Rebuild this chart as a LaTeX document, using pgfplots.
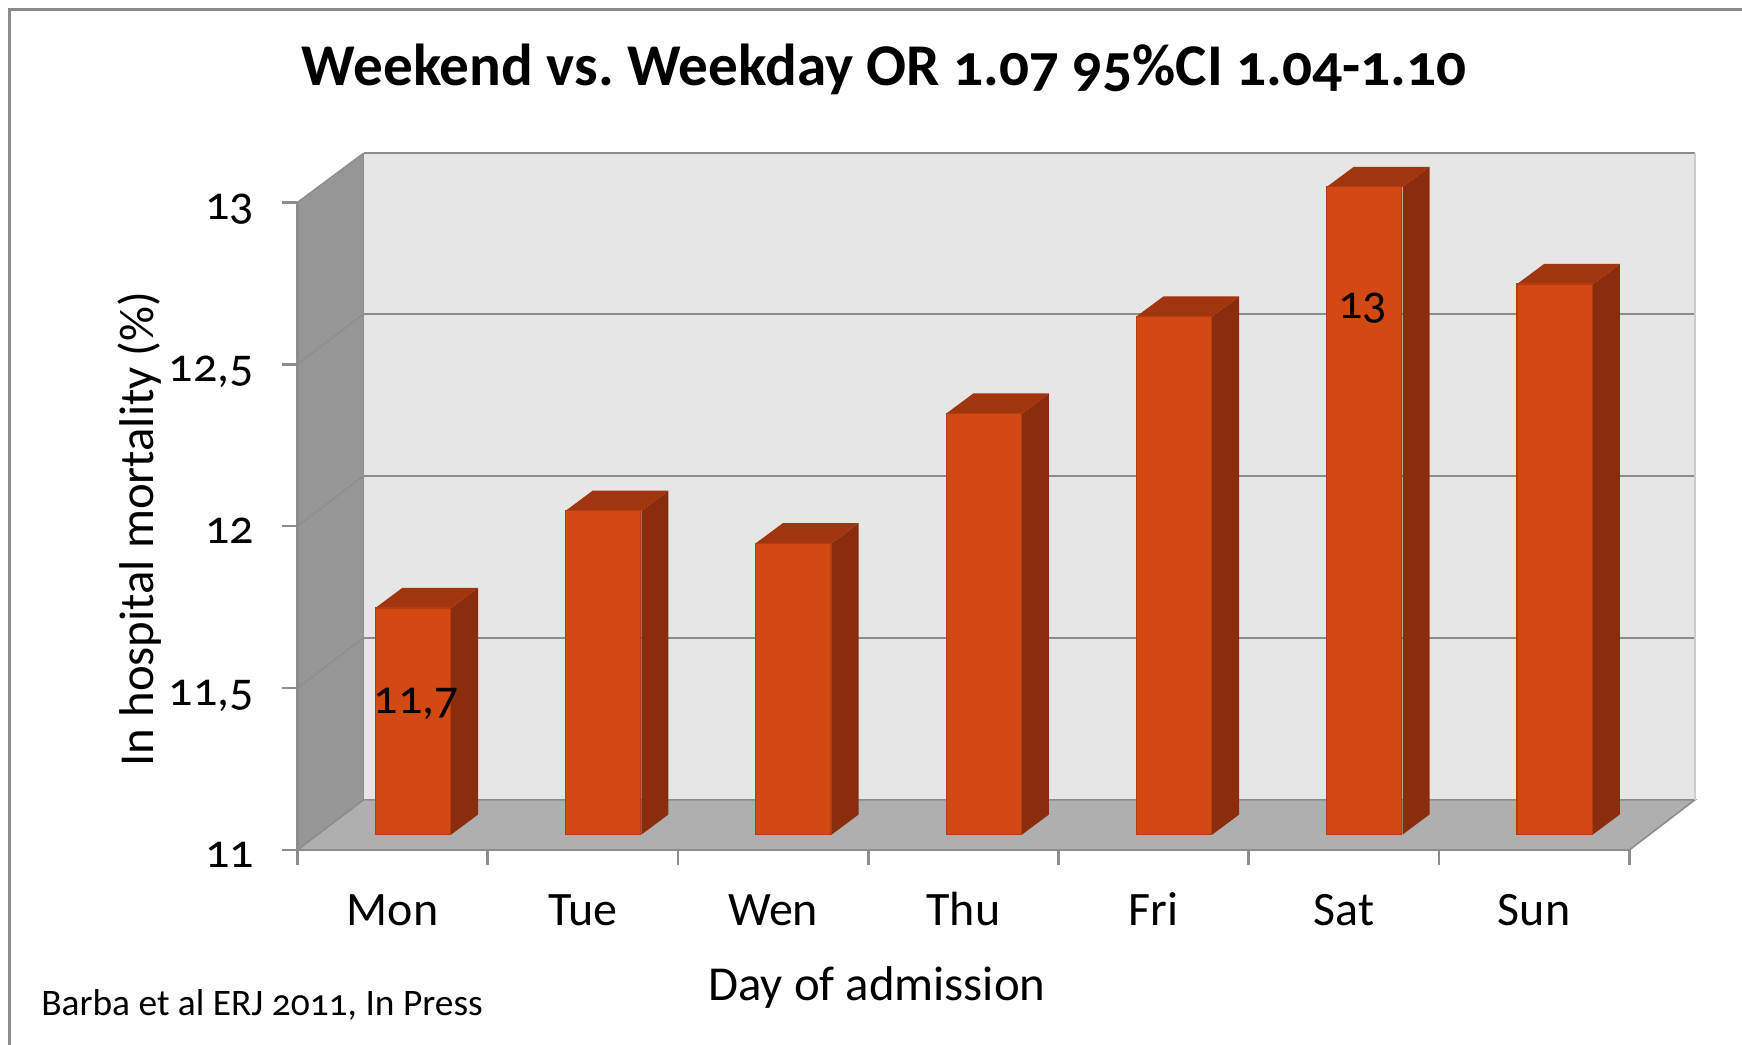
\documentclass[border=0pt]{standalone}
\usepackage{pgfplots}
\pgfplotsset{compat=1.18}
\usepackage{pgfplotstable}
\usepackage{fontspec}
\setmainfont[Numbers=OldStyle]{Carlito}
\definecolor{frontc}{HTML}{D34914}
\definecolor{edgec}{HTML}{B53C10}
\definecolor{sidec}{HTML}{8A2D0C}
\definecolor{topc}{HTML}{A1350E}
\definecolor{wallc}{HTML}{969696}
\definecolor{backc}{HTML}{E6E6E6}
\definecolor{floorc}{HTML}{AFAFAF}
\definecolor{linec}{HTML}{8C8C8C}
\pgfplotstableread{
x v
0.5 11.7
1.5 12.0
2.5 11.9
3.5 12.3
4.5 12.6
5.5 13.0
6.5 12.7
}\daydata
\newcommand{\threeD}[2]{%
  \pgfmathsetmacro{\xl}{#1+0.410}%
  \pgfmathsetmacro{\xr}{#1+0.808}%
  \pgfmathsetmacro{\xlb}{#1+0.410+0.142}%
  \pgfmathsetmacro{\xrb}{#1+0.808+0.142}%
  \pgfmathsetmacro{\yt}{#2+0.0476}%
  \pgfmathsetmacro{\ytb}{#2+0.0476+0.062}%
  \addplot[fill=sidec,draw=none] coordinates {(\xr,11.0476)(\xrb,11.1096)(\xrb,\ytb)(\xr,\yt)} --cycle;
  \addplot[fill=topc,draw=none] coordinates {(\xl,\yt)(\xr,\yt)(\xrb,\ytb)(\xlb,\ytb)} --cycle;
}
\begin{document}
\begin{tikzpicture}
\path[use as bounding box] (-148.7pt,-97.5pt) rectangle (722.3pt,425pt);
\draw[linec,line width=1.5pt] (722.3pt,420.3pt) -- (-143.9pt,420.3pt) -- (-143.9pt,-97.5pt);
\begin{axis}[
  scale only axis,
  width=665.95pt, height=323.85pt,
  xmin=0, xmax=7, ymin=11, ymax=13,
  clip=false,
  axis on top,
  axis lines=left,
  axis line style={-,draw=linec,line width=1.3pt},
  tick style={draw=linec,line width=1.3pt},
  tick align=outside,
  major tick length=7.5pt,
  minor tick num=0,
  xtick={0,1,2,3,4,5,6,7},
  xticklabels={},
  extra x ticks={0.5,1.5,2.5,3.5,4.5,5.5,6.5},
  extra x tick labels={Mon,Tue,Wen,Thu,Fri,Sat,Sun},
  extra x tick style={tick style={draw=none},major tick length=0pt},
  xticklabel style={anchor=base,yshift=-37.5pt},
  ytick={11,11.5,12,12.5,13},
  yticklabels={11,{11,5},12,{12,5},13},
  yticklabel style={anchor=base east,xshift=-10.8pt,yshift=-8.5pt},
  tick label style={font=\fontsize{24}{28}\selectfont},
  label style={font=\fontsize{24.4}{28}\selectfont},
  xlabel={Day of admission},
  xlabel style={at={(axis description cs:0.4352,-0.2316)},anchor=base},
  ylabel={In hospital mortality (\%)},
  ylabel style={at={(axis description cs:-0.1084,0.4956)},anchor=base},
  title={Weekend vs.\ Weekday OR 1.07 95\%CI 1.04-1.10},
  title style={at={(axis description cs:0.4405,1.162)},anchor=base,font=\fontsize{29.6}{34}\selectfont\bfseries},
]
% walls and floor
\addplot[fill=backc,draw=none] coordinates {(0.348,11.155)(7.345,11.155)(7.345,13.152)(0.348,13.152)} --cycle;
\addplot[fill=wallc,draw=none] coordinates {(0,11)(0.348,11.155)(0.348,13.152)(0,13)} --cycle;
\addplot[fill=floorc,draw=none] coordinates {(0,11)(7,11)(7.345,11.155)(0.348,11.155)} --cycle;
% grid on the back wall and the diagonals on the side wall
\addplot[linec,line width=1pt] coordinates {(0.348,11.655)(7.345,11.655)};
\addplot[linec,line width=1pt] coordinates {(0.348,12.155)(7.345,12.155)};
\addplot[linec,line width=1pt] coordinates {(0.348,12.655)(7.345,12.655)};
\addplot[linec,line width=1pt] coordinates {(0.348,13.152)(7.345,13.152)};
\addplot[linec,line width=0.6pt] coordinates {(0,11.5)(0.348,11.655)};
\addplot[linec,line width=0.6pt] coordinates {(0,12)(0.348,12.155)};
\addplot[linec,line width=0.6pt] coordinates {(0,12.5)(0.348,12.655)};
\addplot[linec,line width=0.6pt] coordinates {(0,13)(0.348,13.152)};
\addplot[linec,line width=0.8pt] coordinates {(0,11)(0.348,11.155)(7.345,11.155)(7,11)};
\addplot[black!20,line width=0.6pt] coordinates {(7.345,11.155)(7.345,13.152)};
\addplot[linec,line width=0.5pt] coordinates {(0.348,11.155)(0.348,13.152)};
% bars
\threeD{0}{11.7}
\threeD{1}{12.0}
\threeD{2}{11.9}
\threeD{3}{12.3}
\threeD{4}{12.6}
\threeD{5}{13.0}
\threeD{6}{12.7}
\addplot[ybar,bar width=37.6pt,bar shift=0pt,xshift=10.2pt,yshift=7.7pt,fill=frontc,draw=edgec,line width=0.6pt] table[x=x,y=v] {\daydata};
\node[font=\fontsize{24}{28}\selectfont,anchor=base] at (axis cs:0.625,11.42) {11,7};
\node[font=\fontsize{24}{28}\selectfont,anchor=base] at (axis cs:5.6,12.64) {13};
\end{axis}
\node[anchor=base west,font=\fontsize{18.7}{22}\selectfont] at (-131.6pt,-82.5pt) {Barba et al ERJ 2011, In Press};
\end{tikzpicture}
\end{document}
